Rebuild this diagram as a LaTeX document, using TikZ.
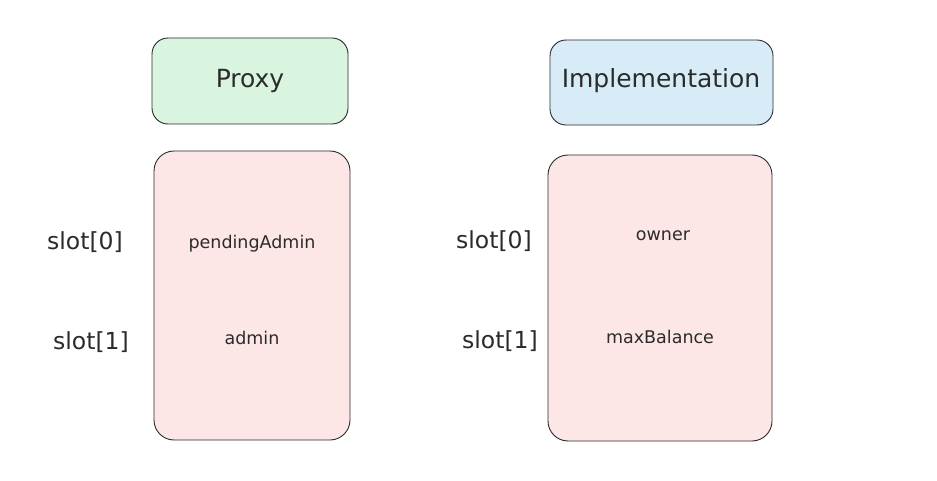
\documentclass[tikz,border=0pt]{standalone}
\usepackage{fontspec}
\setmainfont{DejaVu Sans}
\definecolor{greenfill}{HTML}{D9F5DF}
\definecolor{bluefill}{HTML}{D8ECF8}
\definecolor{pinkfill}{HTML}{FCE6E6}
\definecolor{strokec}{HTML}{2B2B2B}
\begin{document}
\begin{tikzpicture}[x=1pt,y=-1pt,
  box/.style={draw=strokec, line width=0.9pt, rounded corners=16pt},
  title/.style={font=\fontsize{25}{28}\selectfont, text=strokec},
  field/.style={font=\fontsize{17.5}{20}\selectfont, text=strokec},
  slotlbl/.style={font=\fontsize{23.5}{26}\selectfont, text=strokec}]
\useasboundingbox (0,0) rectangle (937,481);
\fill[white] (0,0) rectangle (937,481);
% boxes
\draw[box, fill=greenfill] (152,38) rectangle (348,124);
\node[title] (proxy) at (250,81) {Proxy};
\draw[box, fill=bluefill] (550,40) rectangle (773,125);
\node[title] (impl) at (661,81) {Implementation};
\draw[box, fill=pinkfill, rounded corners=20pt] (154,151) rectangle (350,440);
\draw[box, fill=pinkfill, rounded corners=20pt] (548,155) rectangle (772,441);
% fields
\node[field] (pa) at (252,244) {pendingAdmin};
\node[field] (ad) at (252,338) {admin};
\node[field] (ow) at (663,236) {owner};
\node[field] (mb) at (660,337) {maxBalance};
% slot labels
\node[slotlbl] (ls0) at (85,242) {slot[0]};
\node[slotlbl] (ls1) at (91,342) {slot[1]};
\node[slotlbl] (rs0) at (494,241) {slot[0]};
\node[slotlbl] (rs1) at (500,341) {slot[1]};
\end{tikzpicture}
\end{document}
